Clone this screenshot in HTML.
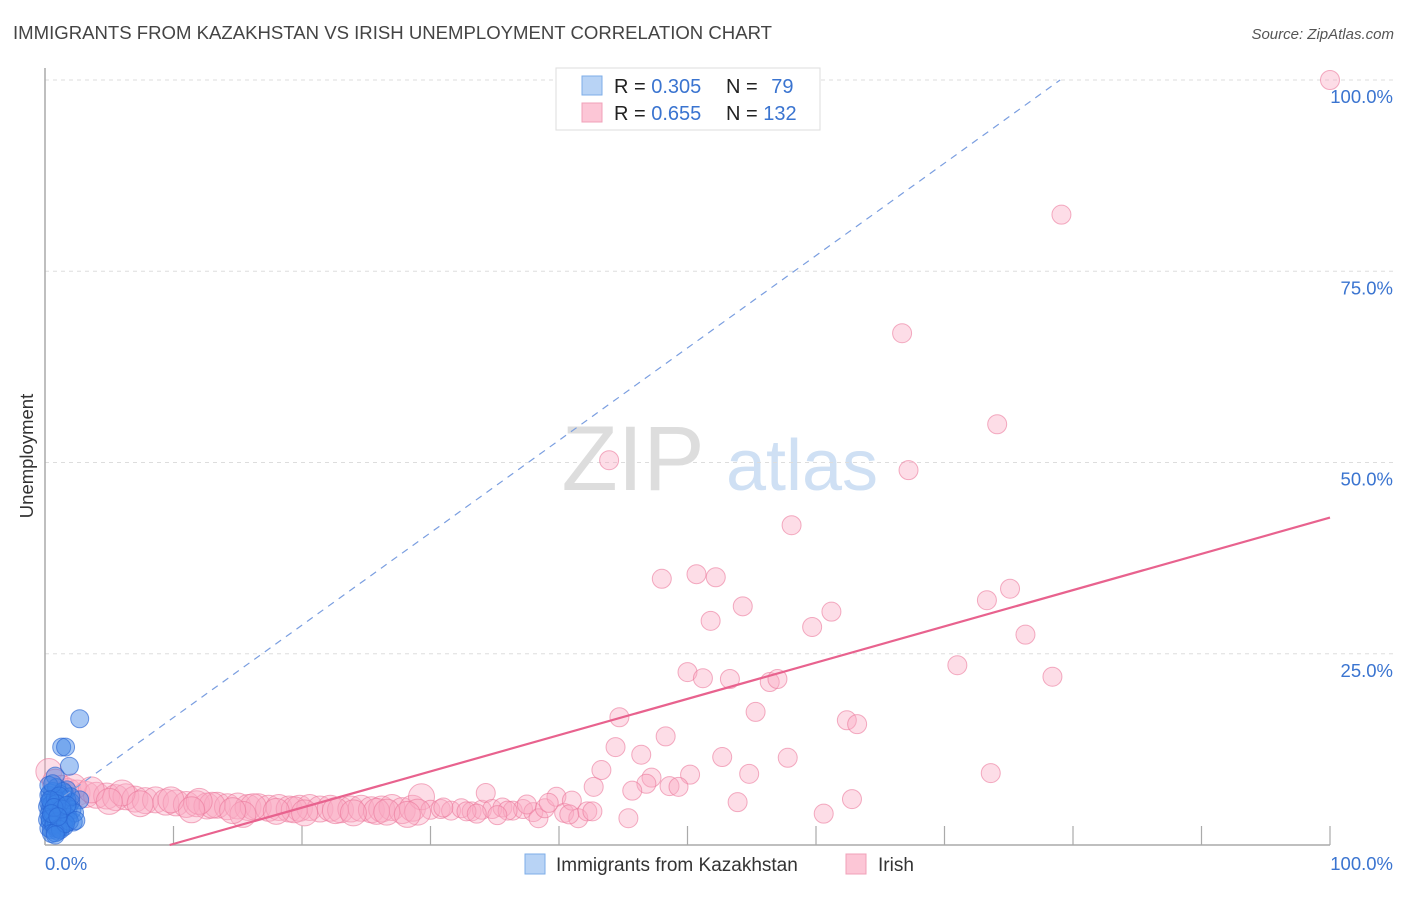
<!DOCTYPE html>
<html><head><meta charset="utf-8">
<style>
body{margin:0;background:#fff;font-family:"Liberation Sans",sans-serif;}
svg text{font-family:"Liberation Sans",sans-serif;}
</style></head>
<body>
<svg id="chart" width="1406" height="892" viewBox="0 0 1406 892" xmlns="http://www.w3.org/2000/svg">
<text x="13" y="39" font-size="18.5" fill="#444" textLength="759" lengthAdjust="spacingAndGlyphs">IMMIGRANTS FROM KAZAKHSTAN VS IRISH UNEMPLOYMENT CORRELATION CHART</text>
<text x="1394" y="39" font-size="15" fill="#555" font-style="italic" text-anchor="end">Source: ZipAtlas.com</text>
<text transform="translate(33,456) rotate(-90)" font-size="18.5" fill="#333" text-anchor="middle">Unemployment</text>
<g>
<text x="633" y="490" font-size="92" fill="#ddd" text-anchor="middle" font-family="Liberation Serif">ZIP</text>
<text x="802" y="490" font-size="72" fill="#cfe0f4" text-anchor="middle">atlas</text>
</g>
<g id="grid"></g>
<g id="axes"></g>
<g id="marks"></g>
<g>
<rect x="556" y="68" width="264" height="62" fill="#fff" stroke="#ddd"/>
<rect x="582" y="76" width="20" height="19" fill="#b8d3f5" stroke="#7eaee8"/>
<rect x="582" y="103" width="20" height="19" fill="#fcc6d6" stroke="#f0a0b8"/>
<text x="614" y="93" font-size="20" fill="#222">R = <tspan fill="#3a74d0">0.305</tspan></text>
<text x="726" y="93" font-size="20" fill="#222">N = <tspan fill="#3a74d0" dx="8">79</tspan></text>
<text x="614" y="120" font-size="20" fill="#222">R = <tspan fill="#3a74d0">0.655</tspan></text>
<text x="726" y="120" font-size="20" fill="#222">N = <tspan fill="#3a74d0">132</tspan></text>
</g>
<g>
<rect x="525" y="854" width="20" height="20" fill="#b8d3f5" stroke="#7eaee8"/>
<text x="556" y="871" font-size="19" fill="#333">Immigrants from Kazakhstan</text>
<rect x="846" y="854" width="20" height="20" fill="#fcc6d6" stroke="#f0a0b8"/>
<text x="878" y="871" font-size="19" fill="#333">Irish</text>
</g>
</svg>
<script>
const yTicks=[25,50,75,100];
const yTickLabels=["25.0%","50.0%","75.0%","100.0%"];
const xTicks=[10,20,30,40,50,60,70,80,90,100];
const blueX=[2.7,1.3,1.6,1.9,0.8,2.7,0.3,0.5,0.7,1.0,1.2,1.5,0.2,0.4,0.6,0.9,1.1,1.4,1.7,2.0,0.3,0.5,0.8,1.0,1.3,1.6,1.8,0.2,0.4,0.6,0.9,1.1,1.4,2.2,0.3,0.5,0.7,1.0,1.2,1.5,0.4,0.6,0.9,1.2,1.7,2.1,0.3,0.5,0.8,1.0,1.3,0.6,1.1,1.8,2.3,0.4,0.9,1.5,0.7,1.0,1.9,0.5,1.2,0.8,1.6,0.3,2.0,1.4,0.6,1.1,0.9,0.4,1.3,0.7,1.7,0.5,1.0,2.4,0.8];
const blueY=[16.5,12.8,12.8,10.3,9.0,5.9,6.5,6.0,5.8,6.2,5.5,6.8,5.0,4.8,5.2,4.6,5.1,4.4,7.2,5.6,4.0,3.8,4.2,3.6,4.5,3.9,4.8,3.3,3.0,3.5,2.8,3.2,2.6,3.0,2.2,2.0,2.5,1.8,2.3,2.9,6.8,7.0,7.5,6.6,5.9,4.6,5.5,5.3,6.1,5.7,5.0,4.3,4.0,3.6,4.2,3.4,3.0,2.4,2.7,2.1,3.1,1.5,2.0,1.6,2.8,7.8,6.3,7.0,8.0,6.4,5.4,5.9,4.7,4.9,5.2,4.1,3.7,3.2,1.3];
const pinkX=[100,79.1,66.7,74.1,67.2,43.9,58.1,50.7,52.2,48.0,54.3,51.8,61.2,59.7,73.3,75.1,76.3,71.0,78.4,50.0,51.2,53.3,56.4,57.0,55.3,44.7,62.4,63.2,48.3,44.4,46.4,52.7,57.8,43.3,50.2,54.8,73.6,47.2,46.8,45.7,48.6,49.3,42.7,62.8,53.9,45.4,60.6,
0.3,0.8,1.3,1.8,2.5,3.2,4.0,4.8,5.5,6.3,7.0,7.8,8.6,9.4,10.2,11.0,11.8,12.6,13.4,14.2,15.0,15.8,16.6,17.4,18.2,19.0,19.8,20.6,21.4,22.2,23.0,23.8,24.6,25.4,26.2,27.0,27.8,28.6,29.3,30.0,30.8,31.6,32.4,33.2,34.0,34.3,34.8,35.6,36.4,37.2,38.0,38.4,38.9,39.8,40.4,41.0,41.5,42.2,2.2,6.0,9.8,13.0,16.2,19.4,22.6,25.8,29.0,32.8,36.0,12.0,18.0,24.0,31.0,37.5,40.8,3.6,7.4,11.4,15.4,20.2,26.6,33.6,39.2,42.6,5.0,14.6,28.2,35.2];
const pinkY=[100,82.4,66.9,55.0,49.0,50.3,41.8,35.4,35.0,34.8,31.2,29.3,30.5,28.5,32.0,33.5,27.5,23.5,22.0,22.6,21.8,21.7,21.3,21.7,17.4,16.7,16.3,15.8,14.2,12.8,11.8,11.5,11.4,9.8,9.2,9.3,9.4,8.8,8.0,7.1,7.7,7.6,7.6,6.0,5.6,3.5,4.1,
9.6,8.2,7.4,7.0,6.8,6.6,6.5,6.4,6.2,6.3,6.0,5.8,5.9,5.6,5.5,5.3,5.4,5.1,5.2,5.0,5.1,4.9,5.0,4.8,4.9,4.7,4.8,4.9,4.7,4.8,4.6,4.7,4.8,4.6,4.7,4.9,4.5,4.8,6.3,4.6,4.7,4.5,4.8,4.4,4.6,6.8,4.7,4.9,4.5,4.7,4.3,3.5,4.8,6.3,4.2,5.8,3.5,4.4,7.6,6.8,5.9,5.2,5.0,4.6,4.5,4.4,4.3,4.4,4.5,5.7,4.4,4.2,4.9,5.3,4.0,7.2,5.4,4.6,4.0,4.2,4.3,4.1,5.5,4.4,5.7,4.5,4.0,3.9];
const blueTrend=[[1.5,6.4],[79,100]];
const pinkTrend=[[9.7,0],[100,42.8]];

const X0=45,X1=1330,Y0=845,Y1=80;
const sx=v=>X0+(X1-X0)*v/100;
const sy=v=>Y0-(Y0-Y1)*v/100;
const NS="http://www.w3.org/2000/svg";
function mk(tag,attrs,parent){const e=document.createElementNS(NS,tag);for(const k in attrs)e.setAttribute(k,attrs[k]);parent.appendChild(e);return e;}
const grid=document.getElementById('grid'),axes=document.getElementById('axes'),marks=document.getElementById('marks');
yTicks.forEach((t,i)=>{
 const l=mk('line',{x1:X0,x2:1394,y1:sy(t),y2:sy(t),stroke:'#ddd','stroke-dasharray':'4,4'},grid);
 
 
 const tx=mk('text',{x:1393,y:sy(t)+23,'font-size':18.5,fill:'#3a74d0','text-anchor':'end'},axes);
 tx.textContent=yTickLabels[i];
 
 
});
const ya=mk('line',{x1:X0,x2:X0,y1:68,y2:Y0,stroke:'#aaa','stroke-width':1.5},axes);


const xa=mk('line',{x1:X0,x2:X1,y1:Y0,y2:Y0,stroke:'#aaa','stroke-width':1.5},axes);


xTicks.forEach(t=>{
 const l=mk('line',{x1:sx(t),x2:sx(t),y1:Y0-19,y2:Y0,stroke:'#aaa','stroke-width':1.2},axes);
 
 
});
const xl0=mk('text',{x:X0,y:870,'font-size':18.5,fill:'#3a74d0'},axes);xl0.textContent='0.0%';


const xl1=mk('text',{x:1393,y:870,'font-size':18.5,fill:'#3a74d0','text-anchor':'end'},axes);xl1.textContent='100.0%';



pinkX.forEach((x,i)=>{
 const r=x<30?13:9.5;
 const c=mk('circle',{cx:sx(x),cy:sy(pinkY[i]),r:r,fill:'rgba(249,170,195,0.4)',stroke:'rgba(235,120,155,0.6)','stroke-width':1},marks);
 
 
});
blueX.forEach((x,i)=>{
 const c=mk('circle',{cx:sx(x),cy:sy(blueY[i]),r:9,fill:'rgba(60,130,230,0.45)',stroke:'rgba(40,100,210,0.65)','stroke-width':1},marks);
 
 
});
const bt=mk('line',{x1:sx(blueTrend[0][0]),y1:sy(blueTrend[0][1]),x2:sx(blueTrend[1][0]),y2:sy(blueTrend[1][1]),stroke:'#7a9ee0','stroke-width':1.2,'stroke-dasharray':'7,6'},marks);


const pt=mk('line',{x1:sx(pinkTrend[0][0]),y1:sy(pinkTrend[0][1]),x2:sx(pinkTrend[1][0]),y2:sy(pinkTrend[1][1]),stroke:'#e8628e','stroke-width':2.2},marks);


</script>
</body></html>
